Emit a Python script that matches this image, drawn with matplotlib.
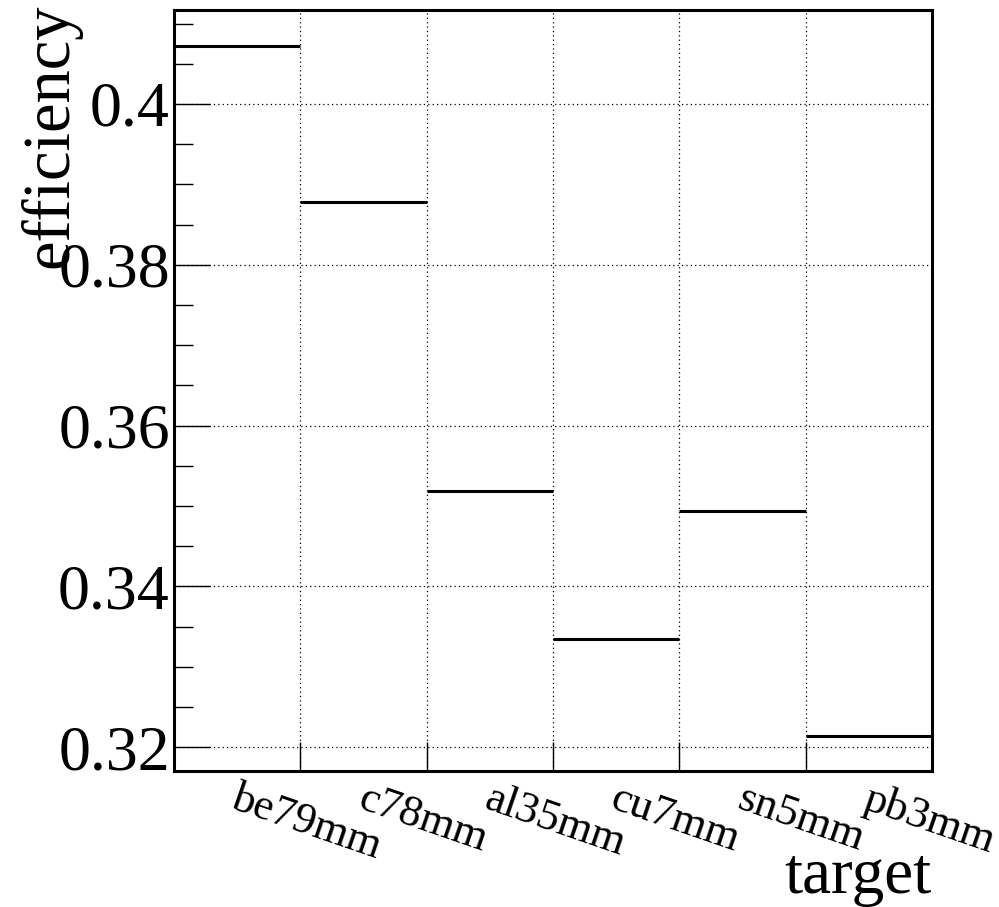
import matplotlib
matplotlib.use("Agg")
import matplotlib.pyplot as plt
import numpy as np
from matplotlib.ticker import MultipleLocator

categories = ["be79mm", "c78mm", "al35mm", "cu7mm", "sn5mm", "pb3mm"]
efficiency = [0.4072, 0.3878, 0.3518, 0.3334, 0.3494, 0.3214]
errors = [0.00008, 0.00010, 0.00020, 0.00008, 0.00012, 0.00008]

plt.rcParams['font.family'] = ['Liberation Serif', 'DejaVu Serif']

W, H = 999, 907
fig = plt.figure(figsize=(W / 100, H / 100), dpi=100)
ax = fig.add_axes([174 / W, 1 - 771 / H, (932 - 174) / W, (771 - 10) / H])

n = len(categories)
edges = np.arange(n + 1)
centers = np.arange(n) + 0.5
ax.hlines(efficiency, edges[:-1], edges[1:], colors='black', lw=2.2, zorder=3)
ax.errorbar(centers, efficiency, yerr=errors, fmt='none', ecolor='black', elinewidth=1.5, capsize=0, zorder=3)

ax.set_xlim(0, n)
ax.set_ylim(0.31703, 0.41168)

ax.set_xticks(edges[1:-1])
ax.set_xticklabels([])
ax.tick_params(axis='x', direction='in', length=21, width=1, bottom=True, top=False)
for c, lab in zip(centers, categories):
    ax.text(c + 0.02, -0.010, lab, transform=ax.get_xaxis_transform(), rotation=-19,
            rotation_mode='anchor', ha='left', va='top', fontsize=32)

ax.yaxis.set_major_locator(MultipleLocator(0.02))
ax.yaxis.set_minor_locator(MultipleLocator(0.005))
ax.tick_params(axis='y', which='major', direction='in', length=26, width=1, labelsize=46, pad=3, right=False)
ax.tick_params(axis='y', which='minor', direction='in', length=14, width=1, right=False)
ax.set_yticks([0.32, 0.34, 0.36, 0.38, 0.40])
ax.set_yticklabels(["0.32", "0.34", "0.36", "0.38", "0.4"])

ax.grid(True, which='major', linestyle=(0, (1, 2.5)), color='black', lw=0.9)
for s in ax.spines.values():
    s.set_linewidth(2.2)

fig.text(50 / W, 1 - 3 / H, "efficiency", rotation=90, ha='center', va='top', fontsize=48)
fig.text(932 / W, 1 - 877 / H, "target", ha='right', va='center', fontsize=47)

fig.savefig("out.png", dpi=100, facecolor='white')
